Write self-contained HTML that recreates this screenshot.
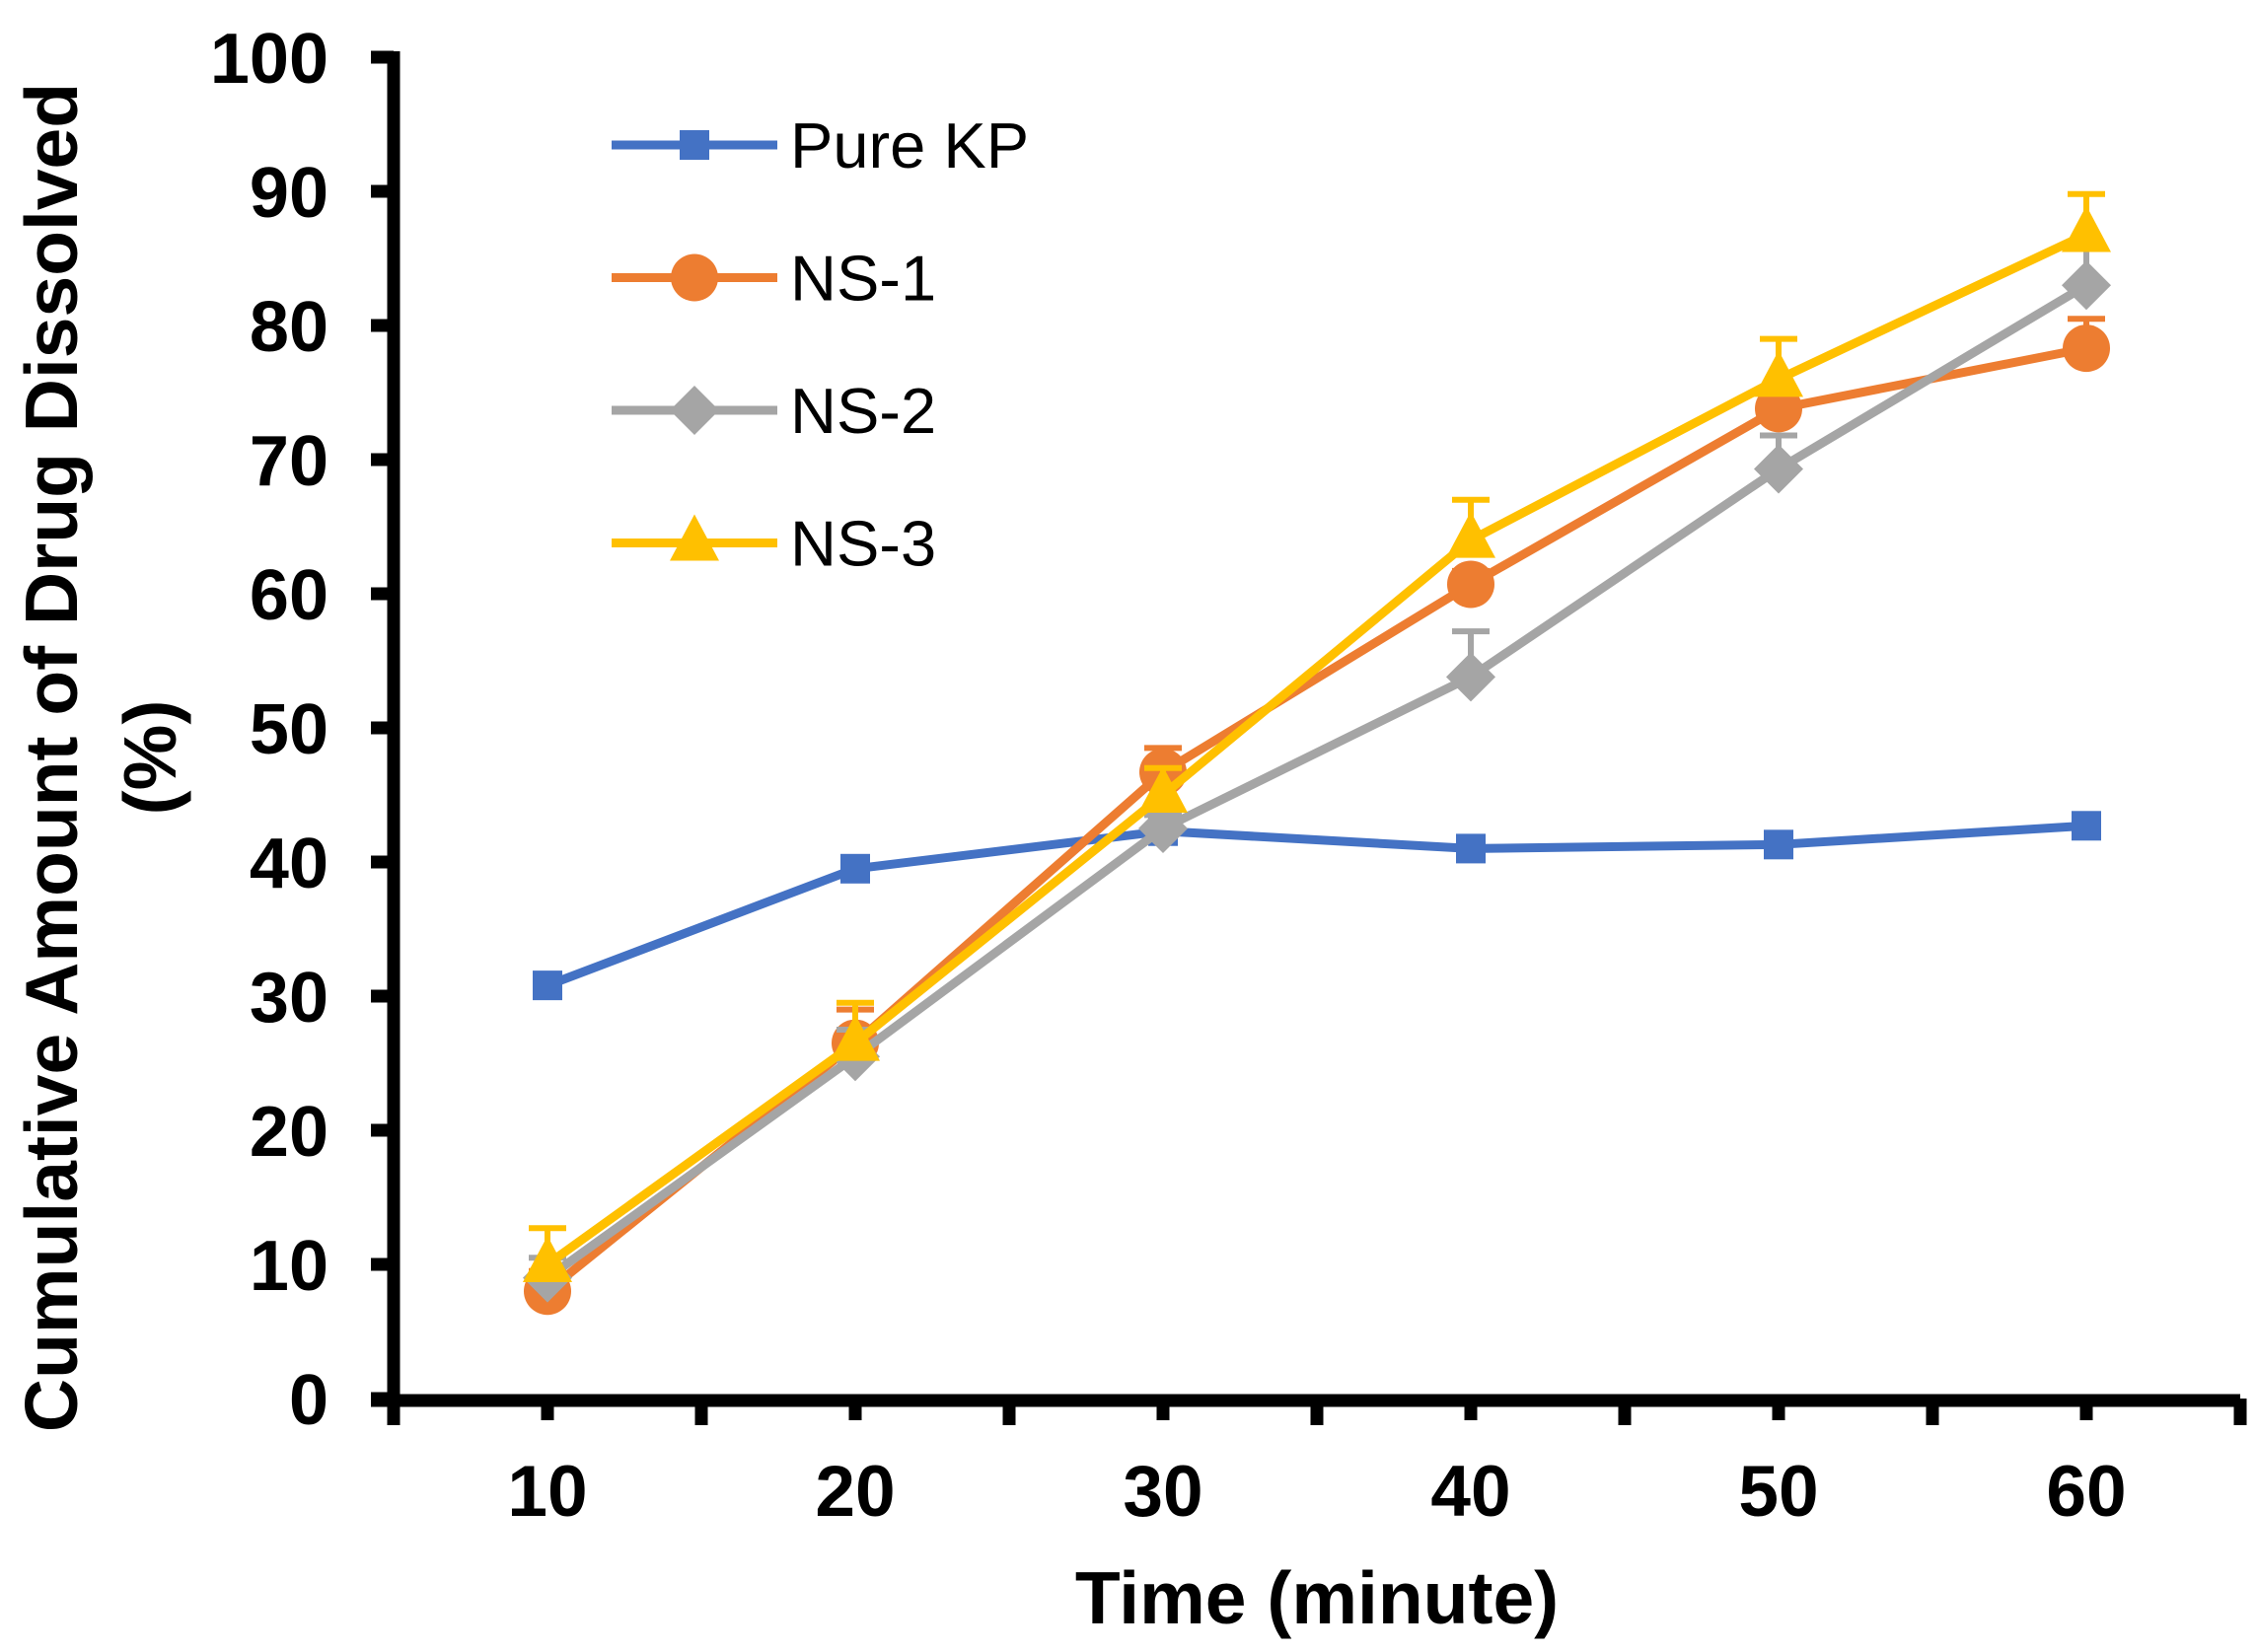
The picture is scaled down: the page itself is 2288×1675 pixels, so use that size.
<!DOCTYPE html>
<html><head><meta charset="utf-8"><style>
html,body{margin:0;padding:0;background:#fff;}
svg{display:block;font-family:"Liberation Sans",Arial,sans-serif;}
</style></head><body>
<svg id="chart" width="2288" height="1675" viewBox="0 0 2288 1675" xmlns="http://www.w3.org/2000/svg">
<g id="grid"></g>
<g id="series"></g>
<g id="legend"></g>
<text transform="translate(58,768) rotate(-90)" text-anchor="middle" font-size="75" font-weight="bold" dominant-baseline="middle">Cumulative Amount of Drug Dissolved</text>
<text transform="translate(158,768) rotate(-90)" text-anchor="middle" font-size="75" font-weight="bold" dominant-baseline="middle">(%)</text>
<text x="1335" y="1646" text-anchor="middle" font-size="75" font-weight="bold">Time (minute)</text>
</svg>
<script>
const categories = [10, 20, 30, 40, 50, 60];
const seriesNames = ["Pure KP", "NS-1", "NS-2", "NS-3"];
const pureKP = [30.8, 39.5, 42.3, 41.0, 41.3, 42.7];
const ns1 = [8.0, 26.5, 46.7, 60.7, 73.8, 78.3];
const ns2 = [9.0, 25.5, 42.5, 53.8, 69.3, 83.0];
const ns3 = [10.0, 26.5, 45.0, 64.0, 76.0, 86.8];
const ns1Err = [1.5, 2.5, 1.8, 1.0, 1.0, 2.2];
const ns2Err = [1.5, 2.0, 1.0, 3.4, 2.5, 3.0];
const ns3Err = [2.7, 3.0, 2.0, 3.0, 3.0, 3.0];
const yTicks = [0, 10, 20, 30, 40, 50, 60, 70, 80, 90, 100];

const NS = "http://www.w3.org/2000/svg";
const X0 = 399, CW = 312, Y0 = 1418, YTOP = 58;
function xPos(i){ return X0 + (i + 0.5) * CW; }
function yPos(v){ return Y0 - (v / 100) * (Y0 - YTOP); }
function mk(tag, attrs, parent){ const e = document.createElementNS(NS, tag); for (const k in attrs) e.setAttribute(k, attrs[k]); parent.appendChild(e); return e; }

const grid = document.getElementById('grid');
const series = document.getElementById('series');
const legend = document.getElementById('legend');

const yAxis = mk('line', {x1: X0, y1: YTOP - 6, x2: X0, y2: Y0 + 7, stroke: '#000', 'stroke-width': 13}, grid);


const xAxis = mk('line', {x1: X0 - 23, y1: Y0 + 2, x2: X0 + 6 * CW, y2: Y0 + 2, stroke: '#000', 'stroke-width': 13}, grid);



yTicks.forEach(function(t){
  const y = yPos(t);
  const tk = mk('line', {x1: X0 - 23, y1: y, x2: X0, y2: y, stroke: '#000', 'stroke-width': 13}, grid);
  
  
  const lb = mk('text', {x: 333, y: y + 26, 'text-anchor': 'end', 'font-size': 72, 'font-weight': 'bold'}, grid);
  lb.textContent = t;
  
  
});
for (let i = 0; i <= categories.length; i++) {
  const x = X0 + i * CW;
  const tk = mk('line', {x1: x, y1: Y0, x2: x, y2: Y0 + 27, stroke: '#000', 'stroke-width': 13}, grid);
  
  
}
categories.forEach(function(c, i){
  const tk = mk('line', {x1: xPos(i), y1: Y0, x2: xPos(i), y2: Y0 + 22, stroke: '#000', 'stroke-width': 13}, grid);
  
  
  const lb = mk('text', {x: xPos(i), y: 1537, 'text-anchor': 'middle', 'font-size': 73, 'font-weight': 'bold'}, grid);
  lb.textContent = c;
  
  
});

function marker(kind, x, y, color, parent){
  let m;
  if (kind === 'square') m = mk('rect', {x: x - 15, y: y - 15, width: 30, height: 30, fill: color}, parent);
  else if (kind === 'circle') m = mk('circle', {cx: x, cy: y, r: 24, fill: color}, parent);
  else if (kind === 'diamond') m = mk('polygon', {points: (x)+','+(y-25)+' '+(x+25)+','+y+' '+x+','+(y+25)+' '+(x-25)+','+y, fill: color}, parent);
  else m = mk('polygon', {points: x+','+(y-29)+' '+(x+25)+','+(y+18)+' '+(x-25)+','+(y+18), fill: color}, parent);
  return m;
}

const defs = [
  {name: 'pure-kp', vals: pureKP, err: null, color: '#4472C4', kind: 'square'},
  {name: 'ns-1', vals: ns1, err: ns1Err, color: '#ED7D31', kind: 'circle'},
  {name: 'ns-2', vals: ns2, err: ns2Err, color: '#A5A5A5', kind: 'diamond'},
  {name: 'ns-3', vals: ns3, err: ns3Err, color: '#FFC000', kind: 'triangle'}
];

defs.forEach(function(d, si){
  const g = mk('g', {}, series);
  
  
  if (d.err) d.vals.forEach(function(v, i){
    const x = xPos(i), y1 = yPos(v), y2 = yPos(v + d.err[i]);
    const eb = mk('path', {d: 'M'+x+','+y1+'V'+y2+'M'+(x-19)+','+y2+'H'+(x+19), stroke: d.color, 'stroke-width': 6, fill: 'none'}, g);
    
    
  });
  const pts = d.vals.map(function(v, i){ return xPos(i) + ',' + yPos(v); }).join(' ');
  const ln = mk('polyline', {points: pts, fill: 'none', stroke: d.color, 'stroke-width': 9, 'stroke-linejoin': 'round'}, g);
  
  
  d.vals.forEach(function(v, i){
    const m = marker(d.kind, xPos(i), yPos(v), d.color, g);
    
    
  });
  const ly = 147 + si * 134.5;
  const lg = mk('g', {}, legend);
  
  
  mk('line', {x1: 620, y1: ly, x2: 788, y2: ly, stroke: d.color, 'stroke-width': 9}, lg);
  marker(d.kind, 704, ly, d.color, lg);
  const t = mk('text', {x: 801, y: ly + 23, 'font-size': 65}, lg);
  t.textContent = seriesNames[si];
});
</script>
</body></html>
